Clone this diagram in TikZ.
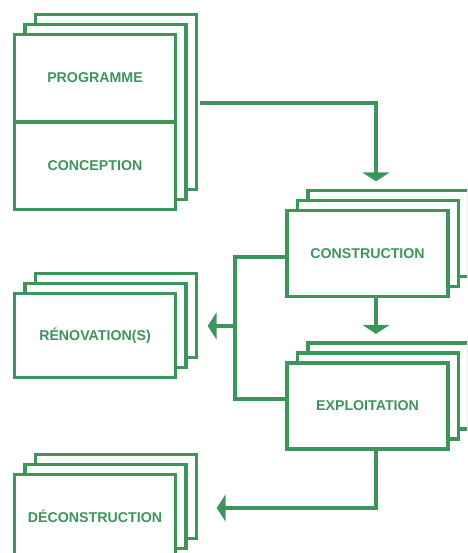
\documentclass[tikz,border=0pt]{standalone}
\usepackage{fontspec}
\setmainfont{Liberation Sans}
\usetikzlibrary{arrows.meta,shadows}
\definecolor{vert}{RGB}{62,149,92}

\begin{document}
\begin{tikzpicture}[x=1pt,y=-1pt]
\tikzstyle{every node}=[font=\bfseries\fontsize{14.2}{17}\selectfont, text=vert]
\tikzstyle{pile}=[draw=vert, line width=3.3pt, fill=white, minimum width=161pt, minimum height=86pt,
  copy shadow={shadow xshift=21pt, shadow yshift=20pt, draw=vert, line width=3.3pt},
  copy shadow={shadow xshift=10.5pt, shadow yshift=10pt, draw=vert, line width=3.3pt}]
\tikzstyle{lien}=[draw=vert, line width=3.3pt]
\tikzstyle{fleche}=[lien, -{Triangle[width=27pt,length=9pt]}]
\useasboundingbox (0,0) rectangle (467,553);
\clip (0,0) rectangle (467,553);
\node (pc) [pile, minimum height=175pt] at (95,122) {};
\draw[lien] (pc.west) -- (pc.east);
\node (prog) at (95,78) {PROGRAMME};
\node (conc) at (95,166) {CONCEPTION};
\node (constr) [pile] at (367.5,253.5) {CONSTRUCTION};
\node (exploit) [pile] at (367.5,406) {EXPLOITATION};
\node (renov) [pile, minimum height=84pt] at (95,335.5) {RÉNOVATION(S)};
\node (decon) [pile, minimum height=84pt] at (95,516.5) {DÉCONSTRUCTION};
\coordinate (depart) at (200,103);
\coordinate (coude) at (235,326);
\draw[fleche] (depart) -| ([xshift=8.5pt,yshift=27.5pt]constr.north);
\draw[fleche] ([xshift=8.5pt]constr.south) -- ([xshift=8.5pt,yshift=27.5pt]exploit.north);
\draw[lien] ([yshift=-3.5pt]constr.west) -| (coude) |- ([yshift=7pt]exploit.west);
\draw[fleche] (coude) -- ([xshift=30.5pt]renov.east |- coude);
\draw[fleche] ([xshift=8.5pt]exploit.south) |- ([xshift=39.5pt,yshift=8.5pt]decon.east);
\end{tikzpicture}
\end{document}
